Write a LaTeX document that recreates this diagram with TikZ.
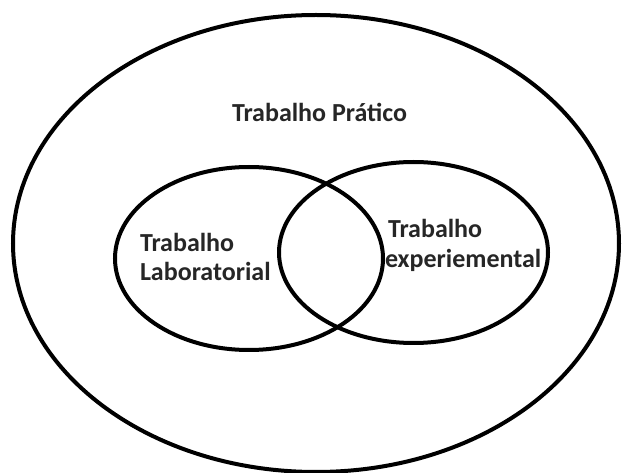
\documentclass[tikz,border=0pt]{standalone}
\usepackage{fontspec}
\setmainfont{Carlito}
\usetikzlibrary{shapes.geometric}
\tikzset{
  ring/.style={draw=black, line width=4pt, ellipse, inner sep=0pt, outer sep=0pt},
  lbl/.style={anchor=base west, inner sep=0pt, outer sep=0pt, text=black!85,
    font=\fontsize{26}{30}\selectfont\bfseries},
}
\begin{document}
\begin{tikzpicture}[x=1pt,y=1pt]
\useasboundingbox[fill=white] (0,0) rectangle (622,-473);
\node[ring, minimum width=606pt, minimum height=457pt] (outer) at (316,-243.5) {};
\node[ring, minimum width=268pt, minimum height=183pt] (lab) at (249,-258.5) {};
\node[ring, minimum width=269pt, minimum height=181pt] (exp) at (413.5,-252.5) {};
\node[lbl] (tp) at (232,-122) {Trabalho Prático};
\node[lbl] (l1) at (140,-252) {Trabalho};
\node[lbl] (l2) at (140,-281) {Laboratorial};
\node[lbl] (e1) at (388,-238) {Trabalho};
\node[lbl] (e2) at (385,-268) {experiemental};
\end{tikzpicture}
\end{document}
